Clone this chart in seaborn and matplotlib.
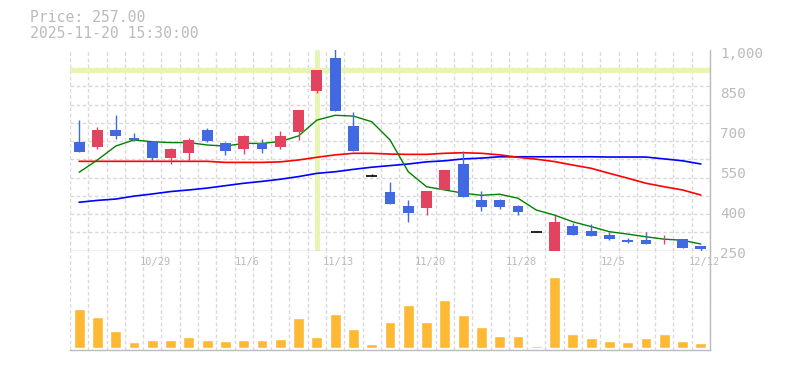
import numpy as np
import pandas as pd
import matplotlib
matplotlib.use('Agg')
import matplotlib.pyplot as plt
import matplotlib.transforms as mtrans
from matplotlib.ticker import FixedLocator
import seaborn as sns

# ---------------- data ----------------
dates = ['10/23', '10/24', '10/27', '10/28', '10/29', '10/30', '10/31', '11/4', '11/5',
         '11/6', '11/7', '11/10', '11/11', '11/12', '11/13', '11/14', '11/17', '11/18',
         '11/19', '11/20', '11/21', '11/25', '11/26', '11/27', '11/28', '12/1', '12/2',
         '12/3', '12/4', '12/5', '12/8', '12/9', '12/10', '12/11', '12/12']
open_ = [657, 639, 701, 671, 657, 598, 616, 701, 652, 631, 654, 639, 695, 848, 970, 716, 529, 469,
         417, 411, 477, 574, 440, 440, 417, 319, 240, 342, 324, 309, 290, 290, 289, 294, 267]
high = [738, 711, 757, 690, 659, 635, 671, 709, 657, 683, 667, 697, 776, 925, 1007, 768, 537, 507,
        440, 473, 552, 623, 473, 443, 422, 319, 383, 355, 350, 320, 298, 320, 309, 294, 267]
low = [620, 631, 667, 660, 589, 575, 590, 657, 609, 612, 616, 631, 665, 838, 773, 624, 529, 426,
       358, 385, 475, 452, 400, 407, 385, 319, 238, 309, 305, 290, 279, 275, 275, 260, 250]
close = [620, 701, 679, 664, 598, 631, 664, 661, 624, 679, 631, 679, 776, 925, 773, 624, 529, 426,
         392, 473, 552, 452, 415, 415, 395, 319, 358, 309, 305, 294, 283, 275, 291, 260, 257]
volume = [39, 31, 17, 6, 8, 8, 11, 8, 7, 8, 8, 9, 30, 11, 34, 19, 4, 26,
          43, 26, 48, 33, 21, 12, 12, 2, 71, 14, 10, 7, 6, 10, 14, 7, 5]  # x10,000 shares
ma_short = [543, 589, 641, 664, 657, 654, 654, 645, 641, 651, 651, 658, 679, 738, 756, 753, 732, 664,
            545, 489, 477, 465, 457, 461, 446, 402, 383, 358, 340, 321, 312, 302, 293, 289, 275]
ma_mid = [584, 584, 584, 584, 584, 584, 584, 584, 580, 580, 580, 582, 589, 599, 608, 614, 614, 611,
          610, 610, 614, 616, 614, 608, 599, 592, 583, 570, 558, 539, 521, 502, 489, 477, 458]
ma_long = [431, 438, 443, 454, 462, 471, 477, 484, 493, 502, 509, 517, 527, 539, 545, 554, 562, 568,
           574, 582, 586, 593, 596, 601, 601, 601, 601, 601, 601, 600, 600, 600, 593, 586, 574]
tick_labels = ['10/29', '11/6', '11/13', '11/20', '11/28', '12/5', '12/12']
ytick_values = [250, 400, 550, 700, 850, 1000]
ytick_labels = ['250', '400', '550', '700', '850', '1,000']
highlight_date = '11/12'
highlight_price = 925
title_lines = ['Price: 257.00', '2025-11-20 15:30:00']

# ---------------- style ----------------
sns.set_style('white')
plt.rcParams['font.family'] = ['DejaVu Sans Mono', 'DejaVu Sans']

W, H = 785, 370
fig = plt.figure(figsize=(W / 100, H / 100), dpi=100)
ax = fig.add_axes([70 / W, (H - 250.7) / H, 640 / W, 200.7 / H])
axv = fig.add_axes([70 / W, (H - 350) / H, 640 / W, 99.3 / H])

GRID = '#d9d9d9'
TXT = '#bbbbbb'
RED = '#e2445f'
BLUE = '#4169e1'
VOLC = '#fdb934'
HL = '#e6f5b2'
DASH = (0, (2.6, 1.8))

n = len(dates)
x = np.arange(n)
o = np.array(open_, float)
c = np.array(close, float)
hi = np.array(high, float)
lo = np.array(low, float)
up = c > o
dn = c < o
flat = c == o

df = pd.DataFrame({'date': dates, 'x': x, 'volume': volume,
                   'ma_short': ma_short, 'ma_mid': ma_mid, 'ma_long': ma_long})

# highlight crosshair
hx = dates.index(highlight_date)
ax.axvline(hx, color=HL, lw=3.5, zorder=1)
ax.axhline(highlight_price, color=HL, lw=3.5, zorder=1)

# moving averages
sns.lineplot(data=df, x='x', y='ma_long', ax=ax, color='#0000ff', lw=1.2, zorder=2)
sns.lineplot(data=df, x='x', y='ma_mid', ax=ax, color='#ff0000', lw=1.2, zorder=2)
sns.lineplot(data=df, x='x', y='ma_short', ax=ax, color='#008000', lw=1.0, zorder=2)

# candles
for mask, col in ((up, RED), (dn, BLUE)):
    ax.vlines(x[mask], lo[mask], hi[mask], colors=col, lw=1, zorder=3)
    ax.bar(x[mask], np.abs(c[mask] - o[mask]), bottom=np.minimum(o, c)[mask],
           width=0.6, color=col, linewidth=0, zorder=4)
ax.vlines(x[flat], lo[flat], hi[flat], colors='black', lw=1, zorder=3)
ax.hlines(c[flat], x[flat] - 0.3, x[flat] + 0.3, colors='black', lw=1.2, zorder=4)

ax.set_xlim(-0.5, n - 0.5)
ax.set_ylim(250, 1000)
ax.set_xlabel('')
ax.set_ylabel('')
ax.xaxis.set_major_locator(FixedLocator([]))
ax.xaxis.set_minor_locator(FixedLocator(np.arange(-0.5, n, 1)))
ax.yaxis.set_minor_locator(FixedLocator(250 + np.arange(12) * 750 / 11))
ax.yaxis.tick_right()
ax.set_yticks(ytick_values)
ax.set_yticklabels(ytick_labels)
ax.grid(False, which='major')
ax.grid(True, which='minor', color=GRID, linestyle=DASH, lw=1)
ax.tick_params(which='both', length=0)
ax.tick_params(axis='y', which='major', pad=7.5, labelsize=10.3, labelcolor=TXT)
shift = mtrans.ScaledTranslation(0, -2 / 100, fig.dpi_scale_trans)
for lab in ax.get_yticklabels():
    lab.set_transform(lab.get_transform() + shift)
for s in ('top', 'left'):
    ax.spines[s].set_visible(False)
for s in ('bottom', 'right'):
    ax.spines[s].set_color(TXT)
    ax.spines[s].set_linewidth(1)
ax.set_axisbelow(True)

# volume
sns.barplot(data=df, x='date', y='volume', ax=axv, color=VOLC, width=0.6,
            saturation=1, order=dates, zorder=3)
vmax = max(volume) * 97.3 / 71
axv.set_ylim(-vmax * 2 / 97.3, vmax)
axv.set_xlim(-0.5, n - 0.5)
axv.set_xlabel('')
axv.set_ylabel('')
axv.set_xticks([])
axv.set_yticks([])
axv.xaxis.set_minor_locator(FixedLocator(np.arange(-0.5, n, 1)))
axv.grid(False, which='major')
axv.grid(True, which='minor', axis='x', color=GRID, linestyle=DASH, lw=1)
axv.tick_params(which='both', length=0)
for s in ('top', 'left'):
    axv.spines[s].set_visible(False)
for s in ('bottom', 'right'):
    axv.spines[s].set_color(TXT)
    axv.spines[s].set_linewidth(1)
axv.set_axisbelow(True)

trans = mtrans.blended_transform_factory(axv.transData, axv.transAxes) + \
    mtrans.ScaledTranslation(3.5 / 100, 0, fig.dpi_scale_trans)
for lab in tick_labels:
    axv.text(dates.index(lab), 1 - 11.5 / 99.3, lab, transform=trans, ha='center',
             va='center', fontsize=7.5, color=TXT)

fig.text(30 / W, 1 - 18 / H, title_lines[0], ha='left', va='center', fontsize=10.6, color=TXT)
fig.text(30 / W, 1 - 33 / H, title_lines[1], ha='left', va='center', fontsize=10.6, color=TXT)

fig.savefig('out.png', dpi=100)
